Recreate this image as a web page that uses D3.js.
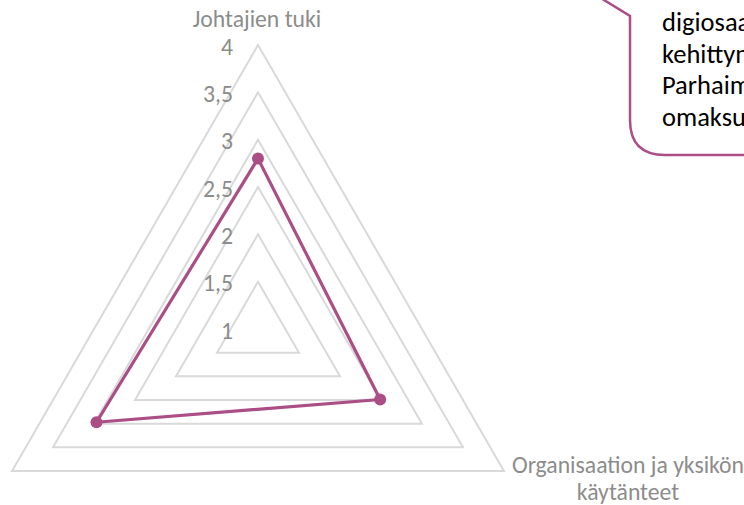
<!DOCTYPE html>
<html><head><meta charset="utf-8">
<script src="https://cdn.jsdelivr.net/npm/d3@7"></script>
<style>
html,body{margin:0;padding:0;background:#fff;overflow:hidden;}
svg{display:block;}
text{font-family:Carlito,Calibri,Lato,"Open Sans",sans-serif;}
</style></head>
<body>
<script>
const categories = ["Johtajien tuki", "Organisaation ja yksikön käytänteet", ""];
const categoryLines = [["Johtajien tuki"], ["Organisaation ja yksikön", "käytänteet"], []];
const values = [2.8, 2.49, 2.97];
const tickValues = [1, 1.5, 2, 2.5, 3, 3.5, 4];
const tickLabels = ["1", "1,5", "2", "2,5", "3", "3,5", "4"];
const calloutLines = ["digiosaaminen", "kehittynyt.", "Parhaimmillaan", "omaksuttu"];

const W = 744, H = 505;
const cx = 258, cy = 329, R = 284;
const FS = 23.7;
const svg = d3.select("body").append("svg").attr("width", W).attr("height", H);

const r = d3.scaleLinear().domain([1, 4]).range([0, R]);
const angle = i => i * 2 * Math.PI / categories.length; // 0 = up, clockwise
const pt = (i, v) => [cx + r(v) * Math.sin(angle(i)), cy - r(v) * Math.cos(angle(i))];

// grid
const g = svg.append("g");
tickValues.filter(t => t > 1).forEach(t => {
  const pts = categories.map((c, i) => pt(i, t));
  g.append("polygon").attr("points", pts.map(p => p.join(",")).join(" "))
    .attr("fill", "none").attr("stroke", "#d9d9d9").attr("stroke-width", 2);
});

// tick labels
tickValues.forEach((t, k) => {
  const p = pt(0, t);
  svg.append("text").attr("x", cx - 25).attr("y", p[1] + 9.5)
    .attr("text-anchor", "end")
    .attr("font-size", FS).attr("fill", "#8c8c8c").text(tickLabels[k]);
});

// series
const line = d3.line().curve(d3.curveLinearClosed);
svg.append("path").attr("d", line(values.map((v, i) => pt(i, v))))
  .attr("fill", "none").attr("stroke", "#ab4e86").attr("stroke-width", 3.2).attr("stroke-linejoin", "round");
svg.selectAll("circle.m").data(values).enter().append("circle")
  .attr("cx", (v, i) => pt(i, v)[0]).attr("cy", (v, i) => pt(i, v)[1])
  .attr("r", 6).attr("fill", "#ab4e86");

// category labels
const labelPos = [[257, 27], [628, 473], [-110, 473]];
categoryLines.forEach((lines, i) => {
  lines.forEach((s, j) => {
    svg.append("text").attr("x", labelPos[i][0]).attr("y", labelPos[i][1] + j * 26.5)
      .attr("text-anchor", "middle").attr("font-size", FS).attr("fill", "#8c8c8c").text(s);
  });
});

// callout
svg.append("path")
  .attr("d", "M560,-27 L630,16 L630,120 Q630,155 665,155 L760,155 L760,-30 Z")
  .attr("fill", "#fff").attr("stroke", "#ab4e86").attr("stroke-width", 2.5);
calloutLines.forEach((s, j) => {
  svg.append("text").attr("x", 662).attr("y", 31 + j * 31.7)
    .attr("font-size", 26.5).attr("fill", "#000").text(s);
});
</script>
</body></html>
